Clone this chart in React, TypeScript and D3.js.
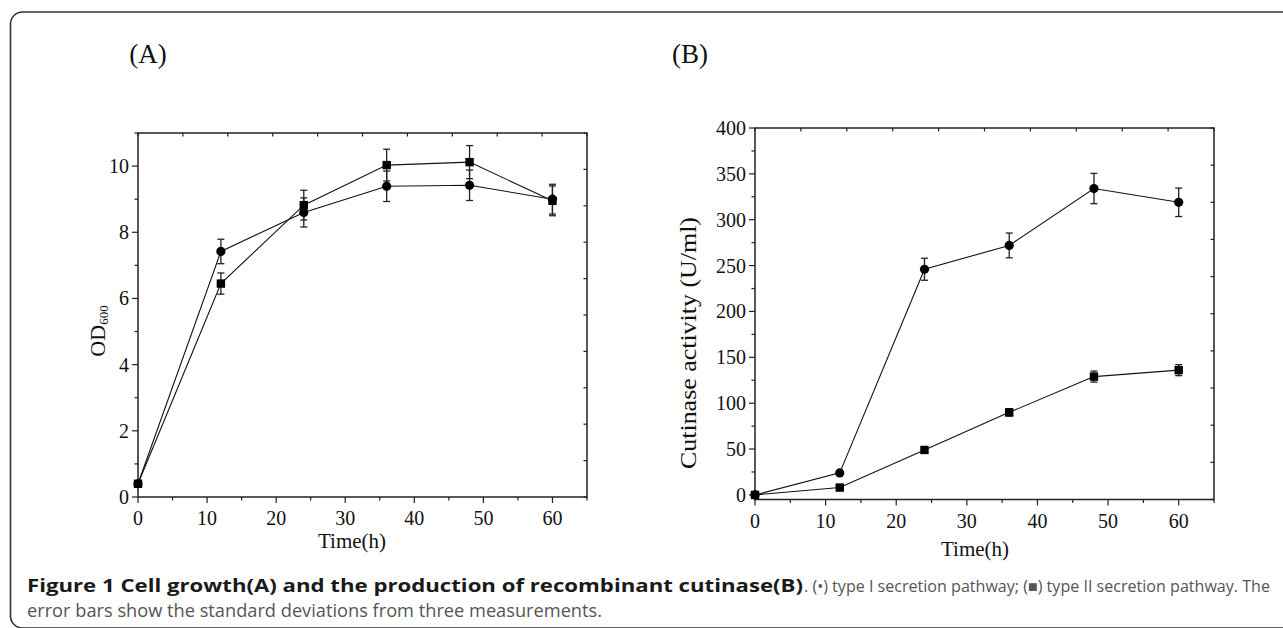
import React from 'react';
import * as d3 from 'd3';

// ---------- data ----------
const times = [0, 12, 24, 36, 48, 60];
const odTypeI = [0.4, 7.42, 8.6, 9.39, 9.42, 9.0];
const odTypeIErr = [0.03, 0.37, 0.44, 0.46, 0.46, 0.45];
const odTypeII = [0.4, 6.45, 8.82, 10.03, 10.12, 8.95];
const odTypeIIErr = [0.03, 0.32, 0.45, 0.48, 0.5, 0.45];
const actTypeI = [0, 24, 246, 272, 334, 319];
const actTypeIErr = [0, 1.5, 12, 13.5, 16.5, 15.5];
const actTypeII = [0, 8, 49, 90, 129, 136];
const actTypeIIErr = [0, 1, 2, 4, 6, 6];
const timeTicks = [0, 10, 20, 30, 40, 50, 60];
const odTicks = [0, 2, 4, 6, 8, 10];
const actTicks = [0, 50, 100, 150, 200, 250, 300, 350, 400];

const SERIF = "'Liberation Serif', 'Times New Roman', serif";
const SANS = "'Open Sans', 'Noto Sans', sans-serif";

type Series = { vals: number[]; errs: number[]; shape: 'circle' | 'square' };

type PanelProps = {
  left: number; right: number; top: number; bottom: number;
  xDomain: [number, number]; yDomain: [number, number];
  yTicks: number[]; yMinor: number; series: Series[];
  yTitle: React.ReactNode; xTitleX: number; xTitleY: number;
};

function Panel(p: PanelProps) {
  const x = d3.scaleLinear().domain(p.xDomain).range([p.left, p.right]);
  const y = d3.scaleLinear().domain(p.yDomain).range([p.bottom, p.top]);
  const xMinor = d3.range(0, p.xDomain[1] + 0.001, 5);
  const yMinor = d3.range(0, p.yDomain[1] + 0.001, p.yMinor);
  const frac = d3.range(0, 11).map((i) => i / 10);
  const line = d3.line<number>().x((_, i) => x(times[i])).y((v) => y(v));
  return (
    <g>
      <rect x={p.left} y={p.top} width={p.right - p.left} height={p.bottom - p.top}
        fill="none" stroke="#222" strokeWidth={1.5} />
      {/* bottom ticks */}
      {xMinor.map((t) => (
        <line key={'bx' + t} x1={x(t)} x2={x(t)} y1={p.bottom}
          y2={p.bottom + (t % 10 === 0 ? 6 : 3.5)} stroke="#222" strokeWidth={1.2} />
      ))}
      {timeTicks.map((t) => (
        <text key={'bl' + t} x={x(t)} y={p.bottom + 28} textAnchor="middle"
          fontFamily={SERIF} fontSize={20} fill="#111">{t}</text>
      ))}
      {/* left ticks */}
      {yMinor.map((t) => (
        <line key={'ly' + t} x1={p.left} x2={p.left - (p.yTicks.includes(t) ? 6 : 3.5)}
          y1={y(t)} y2={y(t)} stroke="#222" strokeWidth={1.2} />
      ))}
      {p.yTicks.map((t) => (
        <text key={'ll' + t} x={p.left - 9} y={y(t)} dy="0.35em" textAnchor="end"
          fontFamily={SERIF} fontSize={20} fill="#111">{t}</text>
      ))}
      {/* top & right ticks (10 equal divisions) */}
      {frac.map((f) => (
        <line key={'tt' + f} x1={p.left + f * (p.right - p.left)} x2={p.left + f * (p.right - p.left)}
          y1={p.top} y2={p.top + 3.5} stroke="#222" strokeWidth={1.2} />
      ))}
      {frac.map((f) => (
        <line key={'rt' + f} x1={p.right} x2={p.right - 3.5}
          y1={p.bottom - f * (p.bottom - p.top)} y2={p.bottom - f * (p.bottom - p.top)}
          stroke="#222" strokeWidth={1.2} />
      ))}
      {/* series lines */}
      {p.series.map((s, si) => (
        <path key={'ln' + si} d={line(s.vals) || ''} fill="none" stroke="#111" strokeWidth={1.1} />
      ))}
      {/* error bars */}
      {p.series.map((s, si) => s.vals.map((v, i) => {
        const yt = y(v + s.errs[i]);
        const yb = y(v - s.errs[i]);
        if (yb - yt < 2) return null;
        const cx = x(times[i]);
        return (
          <g key={'eb' + si + '-' + i} stroke="#222" strokeWidth={1.3}>
            <line x1={cx} x2={cx} y1={yt} y2={yb} />
            <line x1={cx - 3.5} x2={cx + 3.5} y1={yt} y2={yt} />
            <line x1={cx - 3.5} x2={cx + 3.5} y1={yb} y2={yb} />
          </g>
        );
      }))}
      {/* markers */}
      {p.series.map((s, si) => s.vals.map((v, i) => (
        s.shape === 'circle'
          ? <circle key={'mk' + si + '-' + i} cx={x(times[i])} cy={y(v)} r={4.6} fill="#000" />
          : <rect key={'mk' + si + '-' + i} x={x(times[i]) - 4.2} y={y(v) - 4.2} width={8.4} height={8.4} fill="#000" />
      )))}
      <text x={p.xTitleX} y={p.xTitleY} textAnchor="middle" fontFamily={SERIF}
        fontSize={21} fill="#111">Time(h)</text>
      {p.yTitle}
    </g>
  );
}

export default function App() {
  return (
    <svg width={1283} height={628} style={{ position: 'absolute', left: 0, top: 0, background: '#fff' }}>
      <rect x={0} y={0} width={1283} height={628} fill="#fff" />
      <rect x={10.5} y={12} width={1300} height={616} rx={12} fill="none" stroke="#333" strokeWidth={1.6} />
      <text x={148} y={63} textAnchor="middle" fontFamily={SERIF} fontSize={27} fill="#111">(A)</text>
      <text x={690} y={63} textAnchor="middle" fontFamily={SERIF} fontSize={27} fill="#111">(B)</text>
      <Panel left={138} right={587} top={133} bottom={497}
        xDomain={[0, 65]} yDomain={[0, 11]} yTicks={odTicks} yMinor={1}
        series={[
          { vals: odTypeII, errs: odTypeIIErr, shape: 'square' },
          { vals: odTypeI, errs: odTypeIErr, shape: 'circle' },
        ]}
        xTitleX={352} xTitleY={548}
        yTitle={
          <text transform="translate(105,331) rotate(-90)" textAnchor="middle"
            fontFamily={SERIF} fontSize={22} fill="#111">OD<tspan fontSize={13} dy={3}>600</tspan></text>
        }
      />
      <Panel left={755} right={1214} top={128} bottom={499.5}
        xDomain={[0, 65]} yDomain={[-5, 400]} yTicks={actTicks} yMinor={25}
        series={[
          { vals: actTypeI, errs: actTypeIErr, shape: 'circle' },
          { vals: actTypeII, errs: actTypeIIErr, shape: 'square' },
        ]}
        xTitleX={975} xTitleY={556}
        yTitle={
          <text transform="translate(696,343) rotate(-90)" textAnchor="middle"
            fontFamily={SERIF} fontSize={23} fill="#111" textLength={252}
            lengthAdjust="spacingAndGlyphs">Cutinase activity (U/ml)</text>
        }
      />
      <text x={27} y={592} fontFamily={SANS} fontSize={18} fontWeight="bold" fill="#1a1a1a"
        textLength={776} lengthAdjust="spacingAndGlyphs">
        Figure 1 Cell growth(A) and the production of recombinant cutinase(B)
      </text>
      <text x={804} y={592} fontFamily={SANS} fontSize={16.2} fill="#555"
        textLength={466} lengthAdjust="spacingAndGlyphs">
        . (•) type I secretion pathway; (■) type II secretion pathway. The
      </text>
      <text x={27} y={617} fontFamily={SANS} fontSize={17.5} fill="#555"
        textLength={575} lengthAdjust="spacingAndGlyphs">
        error bars show the standard deviations from three measurements.
      </text>
    </svg>
  );
}
